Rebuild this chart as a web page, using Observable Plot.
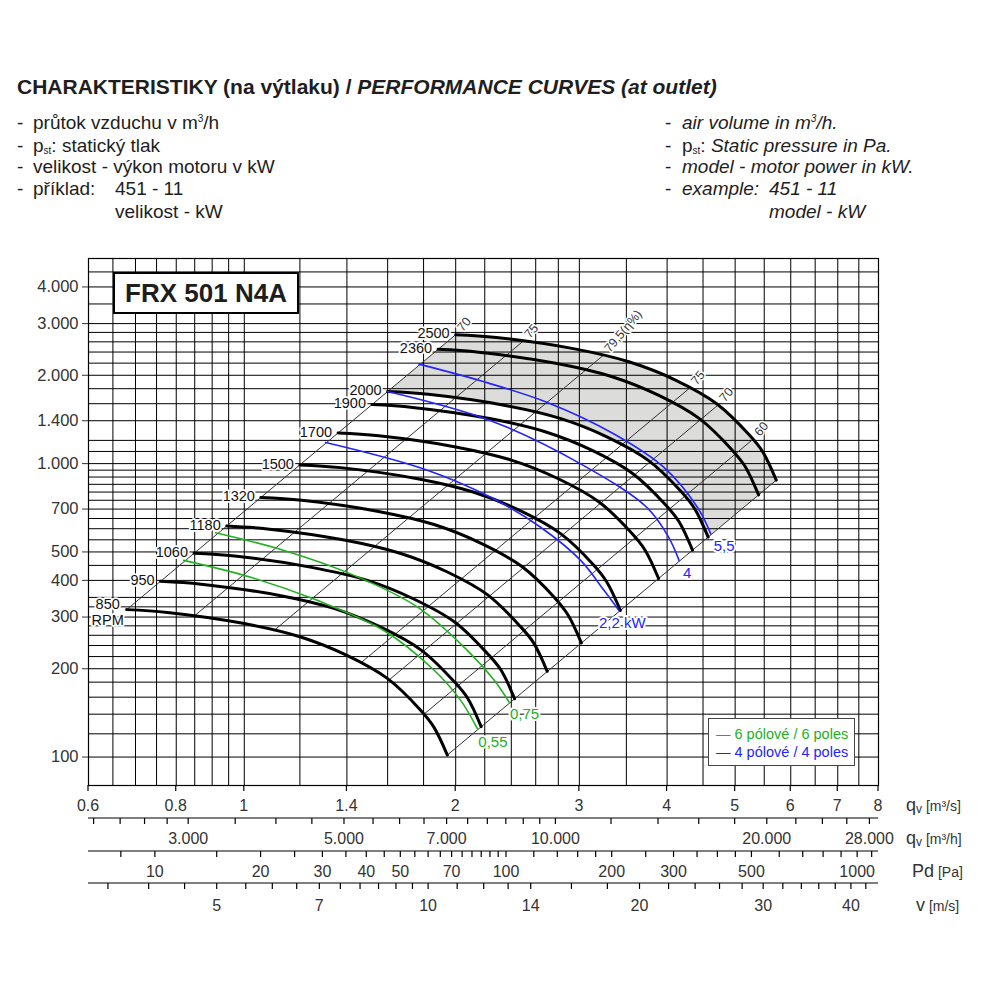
<!DOCTYPE html>
<html><head><meta charset="utf-8">
<script src="https://cdn.jsdelivr.net/npm/d3@7"></script>
<script src="https://cdn.jsdelivr.net/npm/@observablehq/plot@0.6"></script>
<style>
body{margin:0;background:#fff;font-family:"Liberation Sans",Arial,Helvetica,sans-serif;color:#1e1e1e;}
#page{position:relative;width:1000px;height:1000px;overflow:hidden;}
.abs{position:absolute;white-space:nowrap;line-height:1;}
.hd{font-size:19px;}
.it{font-style:italic;}
sub.s{font-size:10px;vertical-align:-2px;}
sup.s{font-size:10px;vertical-align:7px;}
#chart{position:absolute;left:0;top:240px;}
#frx{position:absolute;left:113px;top:272px;width:182px;height:38px;border:2px solid #000;background:#fff;font-weight:bold;font-size:26px;text-align:center;line-height:38px;z-index:2;}
#legend{position:absolute;left:708px;top:718px;width:145px;height:46px;border:1.5px solid #444;background:#fff;font-size:14.5px;z-index:2;}
</style></head>
<body><div id="page">
<div class="abs" style="left:17px;top:76px;font-size:21px;font-weight:bold;">CHARAKTERISTIKY (na výtlaku) / <i>PERFORMANCE CURVES (at outlet)</i></div>

<div class="abs hd" style="left:17px;top:113px;">-</div><div class="abs hd" style="left:33px;top:113px;">průtok vzduchu v m<sup class="s">3</sup>/h</div>
<div class="abs hd" style="left:17px;top:136px;">-</div><div class="abs hd" style="left:33px;top:136px;">p<sub class="s">st</sub>: statický tlak</div>
<div class="abs hd" style="left:17px;top:157px;">-</div><div class="abs hd" style="left:33px;top:157px;">velikost - výkon motoru v kW</div>
<div class="abs hd" style="left:17px;top:179px;">-</div><div class="abs hd" style="left:33px;top:179px;">příklad:</div><div class="abs hd" style="left:115px;top:179px;">451 - 11</div>
<div class="abs hd" style="left:115px;top:202px;">velikost - kW</div>

<div class="abs hd" style="left:665px;top:113px;">-</div><div class="abs hd it" style="left:682px;top:113px;">air volume in m<sup class="s">3</sup>/h.</div>
<div class="abs hd" style="left:665px;top:136px;">-</div><div class="abs hd" style="left:682px;top:136px;">p<sub class="s">st</sub>: <i>Static pressure in Pa.</i></div>
<div class="abs hd" style="left:665px;top:157px;">-</div><div class="abs hd it" style="left:682px;top:157px;">model - motor power in kW.</div>
<div class="abs hd" style="left:665px;top:179px;">-</div><div class="abs hd it" style="left:682px;top:179px;">example:</div><div class="abs hd it" style="left:769px;top:179px;">451 - 11</div>
<div class="abs hd it" style="left:769px;top:202px;">model - kW</div>

<div class="abs" style="left:20px;top:249px;font-size:17px;color:#333;">p<sub class="s" style="font-size:12px">tot</sub> [Pa]</div>

<div id="chart"></div>
<div id="frx">FRX 501 N4A</div>
<div id="legend">
  <div class="abs" style="left:7px;top:8px;color:#22b022;">— 6 pólové / 6 poles</div>
  <div class="abs" style="left:7px;top:26px;color:#2424ff;">— 4 pólové / 4 poles</div>
</div>
</div>
<script>
const FONT = '"Liberation Sans", Arial, Helvetica, sans-serif';

// ---- grid & ticks ----
const gridQ = [0.6,0.65,0.7,0.75,0.8,0.85,0.9,0.95,1,1.2,1.4,1.6,1.8,2,2.2,2.4,2.6,2.8,3,3.5,4,4.5,5,5.5,6,6.5,7,7.5,8];
const gridP = [100,120,140,160,180,200,220,240,260,280,300,325,350,400,450,500,550,600,650,700,750,800,850,900,950,1000,1100,1200,1400,1600,1800,2000,2200,2400,2600,2800,3000,3500,4000,4500,5000];
const yLabels = [100,200,300,400,500,700,1000,1400,2000,3000,4000];
const qsLabels = [0.6,0.8,1,1.4,2,3,4,5,6,7,8];
const m3hTicks = [2200,2400,2600,2800,3000,3500,4000,4500,5000,5500,6000,6500,7000,7500,8000,8500,9000,9500,10000,12000,14000,16000,18000,20000,22000,24000,26000,28000];
const m3hLabels = [3000,5000,7000,10000,20000,28000];
const pdTicks = [8,10,15,20,25,30,35,40,45,50,55,60,65,70,75,80,85,90,95,100,120,140,160,180,200,250,300,350,400,450,500,600,700,800,900,1000,1100];
const pdLabels = [10,20,30,40,50,70,100,200,300,500,1000];
const vTicks = [3.5,4,4.5,5,5.5,6,6.5,7,7.5,8,8.5,9,9.5,10,11,12,13,14,16,18,20,22,24,26,28,30,32,34,36,38,40,42];
const vLabels = [5,7,10,14,20,30,40];
const OUTLET_AREA = 0.183;
const AIR_DENSITY = 1.2;

// ---- fan curves [qv m3/s, ptot Pa] ----
const c850  = [[0.680,318],[0.777,311],[1.000,285],[1.200,257],[1.400,222],[1.600,185],[1.780,145],[1.860,127],[1.946,101.6]];
const c950  = [[0.760,397],[0.868,388],[1.118,356],[1.341,321],[1.565,277],[1.788,231],[1.989,181],[2.079,159],[2.174,127]];
const c1060 = [[0.848,495],[0.969,484],[1.247,443],[1.497,400],[1.746,345],[1.995,288],[2.220,225],[2.320,198],[2.426,158]];
const c1180 = [[0.944,613],[1.079,599],[1.388,549],[1.666,495],[1.943,428],[2.221,357],[2.471,279],[2.582,245],[2.700,196]];
const c1320 = [[1.056,767],[1.207,750],[1.553,687],[1.863,620],[2.174,535],[2.485,446],[2.764,350],[2.888,306],[3.020,245]];
const c1500 = [[1.200,990],[1.371,969],[1.765,888],[2.118,800],[2.471,691],[2.824,576],[3.141,452],[3.282,395],[3.432,316]];
const c1700 = [[1.360,1272],[1.554,1244],[2.000,1140],[2.400,1028],[2.800,888],[3.200,740],[3.560,580],[3.720,508],[3.890,406]];
const c1900 = [[1.520,1589],[1.737,1554],[2.235,1424],[2.682,1284],[3.129,1109],[3.576,924],[3.979,724],[4.158,635],[4.348,507]];
const c2000 = [[1.600,1761],[1.828,1722],[2.353,1578],[2.824,1423],[3.294,1229],[3.765,1024],[4.188,803],[4.376,703],[4.576,562]];
const c2360 = [[1.888,2451],[2.157,2397],[2.776,2197],[3.332,1981],[3.887,1711],[4.442,1426],[4.942,1118],[5.164,979],[5.400,782]];
const c2500 = [[2.000,2751],[2.285,2690],[2.941,2465],[3.529,2223],[4.118,1923],[4.706,1600],[5.235,1254],[5.471,1099],[5.721,878]];
const rpmValues = [850,950,1060,1180,1320,1500,1700,1900,2000,2360,2500];
const blackCurves = [c850,c950,c1060,c1180,c1320,c1500,c1700,c1900,c2000,c2360,c2500];

// motor curves
const b22 = [[1.306,1181],[1.802,959],[2.243,768],[2.642,607],[3.013,468],[3.252,370],[3.416,316]];
const b40 = [[1.600,1761],[2.243,1401],[3.013,998],[3.741,710],[4.021,561],[4.160,468]];
const b55 = [[1.773,2183],[2.170,1915],[2.701,1616],[3.361,1262],[3.959,971],[4.418,710],[4.615,577]];
const g075 = [[0.910,581],[1.139,506],[1.417,421],[1.763,325],[2.078,231],[2.268,183],[2.382,154]];
const g055 = [[0.820,468],[1.021,410],[1.270,342],[1.580,270],[1.862,198],[2.033,156],[2.147,125]];

// efficiency lines: bottom point (850 curve) and top point (2500 curve)
const effBottom = [[0.680,318],[0.8475,301.6],[1.1015,269.6],[1.464,209],[1.607,183],[1.802,139.9],[1.946,101.6]];
const effTop    = [[2.000,2751],[2.493,2609],[3.240,2332],[4.306,1808],[4.727,1583],[5.300,1210],[5.721,878]];
const effLabels = ["70","75","79,5(η%)","75","70","60",""];

// ---- build tables ----
const toRows = (pts, key) => pts.map(([q,p]) => ({key, q, p}));
const blackRows = blackCurves.flatMap((pts,i) => toRows(pts, rpmValues[i]));
const blueRows = [...toRows(b22,"2.2"), ...toRows(b40,"4"), ...toRows(b55,"5.5")];
const greenRows = [...toRows(g075,"0.75"), ...toRows(g055,"0.55")];
const rpmLabelRows = blackCurves.slice(1).map((pts,i) => ({t: String(rpmValues[i+1]), q: pts[0][0], p: pts[0][1]}));
const effRows = effLabels.map((t,i) => ({t, q1: effBottom[i][0], p1: effBottom[i][1], q2: effTop[i][0], p2: effTop[i][1]}));
// shaded band between the 2000 and 2500 rpm curves
const grayPoly = [...c2500, ...c2000.slice().reverse()].map(([q,p]) => ({q,p}));
const last = a => ({q: a[a.length-1][0], p: a[a.length-1][1]});

const dotFmt = d => d3.format(",")(d).replace(/,/g, ".");
const BLUE = "#2424ff", GREEN = "#22b022";

function bottomAxes(index, scales, values, dims) {
  const X = scales.x;
  const y0 = dims.height - dims.marginBottom;
  const xl = dims.marginLeft, xr = dims.width - dims.marginRight;
  const g = d3.create("svg:g").attr("font-family", FONT).attr("font-size", 16).attr("fill", "#333");
  const rows = [
    {dy: 0,  line: false, ticks: qsLabels, labels: qsLabels, fmt: d => String(d), toQ: d => d, ly: 20},
    {dy: 33, line: true, ticks: m3hTicks, labels: m3hLabels, fmt: dotFmt, toQ: d => d / 3600, ly: 20},
    {dy: 66, line: true, ticks: pdTicks, labels: pdLabels, fmt: d => String(d), toQ: d => OUTLET_AREA * Math.sqrt(d / (AIR_DENSITY / 2)), ly: 20},
    {dy: 98, line: true, ticks: vTicks, labels: vLabels, fmt: d => String(d), toQ: d => OUTLET_AREA * d, ly: 22}
  ];
  for (const r of rows) {
    const yy = y0 + r.dy;
    if (r.line) g.append("line").attr("x1", xl).attr("x2", xr).attr("y1", yy).attr("y2", yy).attr("stroke", "#000").attr("stroke-width", 1.2);
    for (const t of r.ticks) {
      const xx = X(r.toQ(t));
      if (xx < xl - 0.5 || xx > xr + 0.5) continue;
      g.append("line").attr("x1", xx).attr("x2", xx).attr("y1", yy).attr("y2", yy + 6).attr("stroke", "#000").attr("stroke-width", 1.2);
    }
    for (const t of r.labels) {
      g.append("text").attr("x", X(r.toQ(t))).attr("y", yy + r.ly).attr("text-anchor", "middle").attr("dominant-baseline", "central").text(r.fmt(t));
    }
  }
  const titles = [
    {dy: 20, main: "q", sub: "v", unit: " [m³/s]", x: 906},
    {dy: 53, main: "q", sub: "v", unit: " [m³/h]", x: 906},
    {dy: 86, main: "Pd", sub: "", unit: " [Pa]", x: 912},
    {dy: 120, main: "v", sub: "", unit: " [m/s]", x: 916}
  ];
  for (const t of titles) {
    const tx = g.append("text").attr("x", t.x).attr("y", y0 + t.dy).attr("text-anchor", "start").attr("dominant-baseline", "central").attr("font-size", 18);
    tx.append("tspan").text(t.main);
    if (t.sub) tx.append("tspan").attr("font-size", 12).attr("dy", 4).text(t.sub);
    tx.append("tspan").attr("font-size", 14).attr("dy", t.sub ? -3 : 1).text(t.unit);
  }
  return g.node();
}

const chart = Plot.plot({
  width: 1000, height: 690,
  marginTop: 18, marginLeft: 88, marginRight: 122, marginBottom: 145,
  x: {type: "log", domain: [0.6, 8], axis: null},
  y: {type: "log", domain: [80, 5000], axis: null},
  style: {fontFamily: FONT, background: "white", overflow: "visible"},
  marks: [
    Plot.line(grayPoly, {x: "q", y: "p", fill: "#dcdcda", stroke: "none", curve: "linear"}),
    Plot.ruleX(gridQ, {stroke: "#000", strokeWidth: 1}),
    Plot.ruleY(gridP, {stroke: "#000", strokeWidth: 1}),
    Plot.frame({stroke: "#000", strokeWidth: 1.2}),
    Plot.link(effRows, {x1: "q1", y1: "p1", x2: "q2", y2: "p2", stroke: "#333", strokeWidth: 1}),
    Plot.text(effRows, {x: "q2", y: "p2", text: "t", rotate: -50, textAnchor: "start", dx: 4, dy: -5, fontSize: 12.5, fill: "#333", stroke: "white", strokeWidth: 3}),
    Plot.line(blackRows, {x: "q", y: "p", z: "key", stroke: "#000", strokeWidth: 3, curve: "catmull-rom"}),
    Plot.line(greenRows, {x: "q", y: "p", z: "key", stroke: GREEN, strokeWidth: 1.6, curve: "catmull-rom"}),
    Plot.line(blueRows, {x: "q", y: "p", z: "key", stroke: BLUE, strokeWidth: 1.6, curve: "catmull-rom"}),
    Plot.text(rpmLabelRows, {x: "q", y: "p", text: "t", textAnchor: "end", dx: -6, dy: -1, fontSize: 14.5, fill: "#111", stroke: "white", strokeWidth: 3.5}),
    Plot.text([{q: c850[0][0], p: c850[0][1]}], {x: "q", y: "p", text: () => "850\nRPM", textAnchor: "middle", dx: -19, dy: 2, lineHeight: 1.1, fontSize: 14.5, fill: "#111", stroke: "white", strokeWidth: 3.5}),
    Plot.text([last(b22)], {x: "q", y: "p", text: () => "2,2 kW", textAnchor: "start", dx: -20, dy: 13, fontSize: 15, fill: BLUE, stroke: "white", strokeWidth: 4}),
    Plot.text([last(b40)], {x: "q", y: "p", text: () => "4", textAnchor: "start", dx: 4, dy: 13, fontSize: 15, fill: BLUE, stroke: "white", strokeWidth: 4}),
    Plot.text([last(b55)], {x: "q", y: "p", text: () => "5,5", textAnchor: "start", dx: 3, dy: 12, fontSize: 15, fill: BLUE, stroke: "white", strokeWidth: 4}),
    Plot.text([last(g075)], {x: "q", y: "p", text: () => "0,75", textAnchor: "start", dx: 1, dy: 12, fontSize: 15, fill: GREEN, stroke: "white", strokeWidth: 4}),
    Plot.text([last(g055)], {x: "q", y: "p", text: () => "0,55", textAnchor: "start", dx: 1, dy: 14, fontSize: 15, fill: GREEN, stroke: "white", strokeWidth: 4}),
    Plot.axisY(yLabels, {anchor: "left", tickSize: 6, tickPadding: 4, fontSize: 16.5, tickFormat: dotFmt, label: null, color: "#333"}),
    bottomAxes
  ]
});
document.getElementById("chart").append(chart);
</script>
</body></html>
